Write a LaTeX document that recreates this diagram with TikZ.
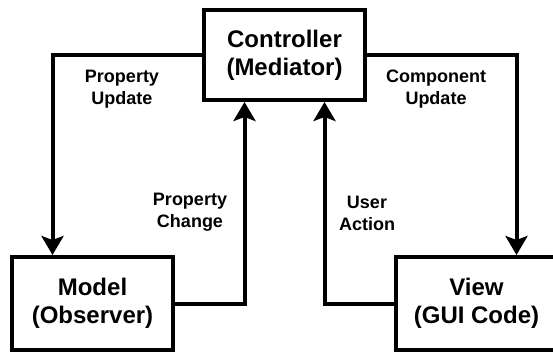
\documentclass[tikz,border=0pt]{standalone}
\usepackage{fontspec}
\setmainfont{Liberation Sans}
\usetikzlibrary{arrows.meta,positioning}

\begin{document}
\begin{tikzpicture}[
  x=1bp, y=-1bp,
  block/.style={draw, line width=4bp, align=center, minimum width=161bp,
    font=\fontsize{24bp}{28bp}\selectfont\bfseries},
  lbl/.style={align=center, font=\fontsize{18bp}{22bp}\selectfont\bfseries},
  arr/.style={-{Stealth[length=19bp,width=22bp,inset=4bp]}, line width=4bp}
]
  \useasboundingbox (0,0) rectangle (553,352);

  % Boxes
  \node[block, minimum height=90bp] (ctrl) at (284.5,55) {Controller\\(Mediator)};
  \node[block, minimum height=93bp] (model) at (92.5,303.5) {Model\\(Observer)};
  \node[block, minimum height=93bp] (view) at (476.5,303.5) {View\\(GUI Code)};

  % Labels
  \node[lbl] (propupd) at (122,89) {Property\\Update};
  \node[lbl] (compupd) at (436,89) {Component\\Update};
  \node[lbl] (propchg) at (190,212) {Property\\Change};
  \node[lbl] (useract) at (367,213) {User\\Action};

  % Flows
  \draw[arr] (ctrl.west) -| ([xshift=-40bp]model.north);
  \draw[arr] (model.east) -| ([xshift=-40bp]ctrl.south);
  \draw[arr] (view.west) -| ([xshift=40bp]ctrl.south);
  \draw[arr] (ctrl.east) -| ([xshift=40bp]view.north);
\end{tikzpicture}
\end{document}
